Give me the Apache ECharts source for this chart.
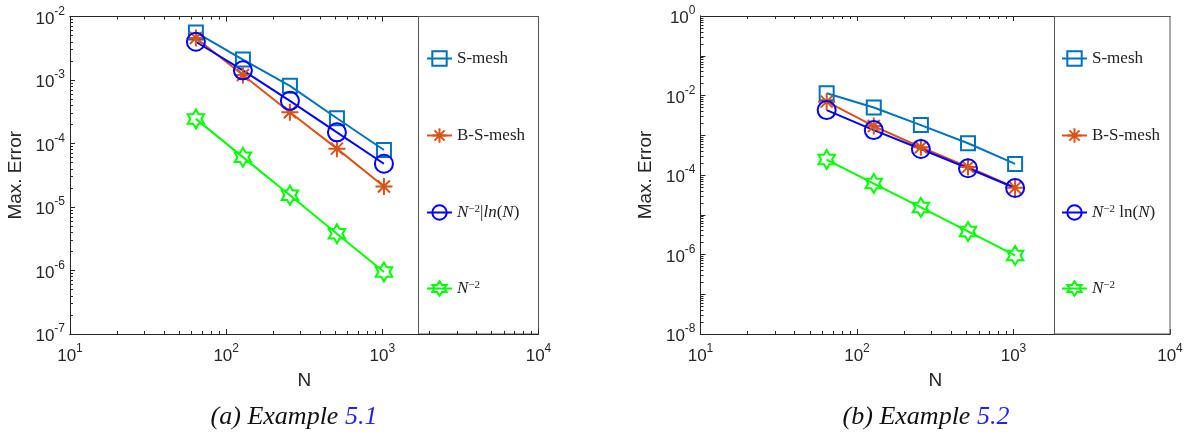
<!DOCTYPE html>
<html><head><meta charset="utf-8">
<script src="https://cdn.jsdelivr.net/npm/echarts@6/dist/echarts.min.js"></script>
<style>html,body{margin:0;padding:0;background:#fff}#c{width:1191px;height:436px}</style>
</head><body><div id="c"></div>
<script>
// ---- data ----
const N = [64, 128, 256, 512, 1024];
const sMeshA  = [5.6e-3, 2.1e-3, 8.1e-4, 2.5e-4, 7.9e-5];
const bsMeshA = [4.6e-3, 1.2e-3, 3.1e-4, 8.3e-5, 2.1e-5];
const lnA     = [4.0e-3, 1.42e-3, 4.7e-4, 1.5e-4, 4.8e-5];
const n2A     = [2.44e-4, 6.1e-5, 1.53e-5, 3.8e-6, 9.5e-7];
const sMeshB  = [1.14e-2, 5.0e-3, 1.8e-3, 6.3e-4, 1.9e-4];
const bsMeshB = [7.0e-3, 1.7e-3, 5.0e-4, 1.6e-4, 4.8e-5];
const lnB     = [4.3e-3, 1.35e-3, 4.5e-4, 1.48e-4, 4.7e-5];
const n2B     = [2.44e-4, 6.1e-5, 1.53e-5, 3.8e-6, 9.5e-7];
const xTickLabels = [10, 100, 1000, 10000];
const yTickLabelsA = [1e-7, 1e-6, 1e-5, 1e-4, 1e-3, 1e-2];
const yTickLabelsB = [1e-8, 1e-6, 1e-4, 1e-2, 1];
const legendNamesA = ['S-mesh', 'B-S-mesh', 'N^-2|ln(N)', 'N^-2'];
const legendNamesB = ['S-mesh ', 'B-S-mesh ', 'N^-2 ln(N)', 'N^-2 '];
const captionA = ['(a) Example ', '5.1'];
const captionB = ['(b) Example ', '5.2'];

// ---- helpers ----
function decades(lo, hi) { const r = []; for (let e = lo; e <= hi; e++) r.push(Math.pow(10, e)); return r; }
function minors(lo, hi) { const r = []; for (let e = lo; e < hi; e++) for (let k = 2; k <= 9; k++) r.push(k * Math.pow(10, e)); return r; }
const AX = '#262626';
const sans = 'Liberation Sans';
const serif = 'Liberation Serif';
const tickRich = {
  b: { fontSize: 17, fontFamily: sans, color: AX, lineHeight: 22, verticalAlign: 'bottom' },
  s: { fontSize: 12, fontFamily: sans, color: AX, lineHeight: 12, verticalAlign: 'top' }
};
function pow10Label(v) { const e = Math.round(Math.log10(v)); return '{b|10}{s|' + e + '}'; }

const SYM_AST = 'path://M0,-10L0,10M-10,0L10,0M-7.07,-7.07L7.07,7.07M-7.07,7.07L7.07,-7.07';
const SYM_HEX = 'path://M0,-10L2.887,-5L8.66,-5L5.774,0L8.66,5L2.887,5L0,10L-2.887,5L-8.66,5L-5.774,0L-8.66,-5L-2.887,-5Z';
const styles = [
  { color: '#0072BD', symbol: 'rect', size: 14 },
  { color: '#D95319', symbol: SYM_AST, size: 17 },
  { color: '#0000FF', symbol: 'circle', size: 18 },
  { color: '#00FF00', symbol: SYM_HEX, size: 19 }
];
function lineOn() { return { show: true, onZero: false, lineStyle: { color: AX, width: 1 } }; }
// ticks hidden behind the legend box (values above ~1700) are left out where the box covers them
const under = v => v < 1700;

function xAxes(grid, bottomZ, bottomAll) {
  const base = { type: 'log', logBase: 10, min: 10, max: 10000, gridIndex: grid, splitLine: { show: false } };
  const botMinor = bottomAll ? minors(1, 4) : minors(1, 4).filter(under);
  return [
    Object.assign({}, base, { position: 'bottom', z: bottomZ, axisLine: lineOn(),
      axisTick: { show: true, inside: true, length: 5, customValues: decades(1, 4), lineStyle: { color: AX, width: 1 } },
      axisLabel: { show: true, margin: 9, customValues: xTickLabels, formatter: pow10Label, rich: tickRich },
      name: 'N', nameLocation: 'middle', nameGap: 37,
      nameTextStyle: { fontFamily: sans, fontSize: 19, color: AX } }),
    Object.assign({}, base, { position: 'bottom', z: bottomZ, axisLine: lineOn(),
      axisTick: { show: true, inside: true, length: 3, customValues: botMinor, lineStyle: { color: AX, width: 1 } },
      axisLabel: { show: false } }),
    Object.assign({}, base, { position: 'top', z: 0, axisLine: lineOn(),
      axisTick: { show: true, inside: true, length: 5, customValues: decades(1, 3), lineStyle: { color: AX, width: 1 } },
      axisLabel: { show: false } }),
    Object.assign({}, base, { position: 'top', z: 0, axisLine: lineOn(),
      axisTick: { show: true, inside: true, length: 3, customValues: minors(1, 4).filter(under), lineStyle: { color: AX, width: 1 } },
      axisLabel: { show: false } })
  ];
}
function yAxes(grid, lo, hi, labels) {
  const base = { type: 'log', logBase: 10, min: Math.pow(10, lo), max: Math.pow(10, hi), gridIndex: grid, splitLine: { show: false } };
  return [
    Object.assign({}, base, { position: 'left', axisLine: lineOn(),
      axisTick: { show: true, inside: true, length: 5, customValues: decades(lo, hi), lineStyle: { color: AX, width: 1 } },
      axisLabel: { show: true, margin: 5, customValues: labels, formatter: pow10Label, rich: tickRich },
      name: 'Max. Error', nameLocation: 'middle', nameGap: 45,
      nameTextStyle: { fontFamily: sans, fontSize: 19, color: AX } }),
    Object.assign({}, base, { position: 'left', axisLine: lineOn(),
      axisTick: { show: true, inside: true, length: 3, customValues: minors(lo, hi), lineStyle: { color: AX, width: 1 } },
      axisLabel: { show: false } })
  ];
}

function mkSeries(names, datas, xi, yi) {
  return names.map((nm, i) => ({
    name: nm, type: 'line', xAxisIndex: xi, yAxisIndex: yi,
    data: N.map((n, j) => [n, datas[i][j]]),
    symbol: styles[i].symbol, symbolSize: styles[i].size, symbolKeepAspect: true, showSymbol: true,
    lineStyle: { color: styles[i].color, width: 2 },
    itemStyle: { color: 'rgba(0,0,0,0)', borderColor: styles[i].color, borderWidth: 2 },
    emphasis: { disabled: true }, animation: false
  }));
}

const legendRich = {
  i: { fontFamily: serif, fontStyle: 'italic', fontSize: 17, color: '#222' },
  r: { fontFamily: serif, fontSize: 17, color: '#222' },
  s: { fontFamily: serif, fontSize: 11, color: '#222', verticalAlign: 'top', lineHeight: 12 }
};
const legendFmt = {
  'S-mesh': '{r|S-mesh}', 'B-S-mesh': '{r|B-S-mesh}',
  'N^-2|ln(N)': '{i|N}{s|\u22122}{r||}{i|ln}{r|(}{i|N}{r|)}',
  'N^-2': '{i|N}{s|\u22122}',
  'S-mesh ': '{r|S-mesh}', 'B-S-mesh ': '{r|B-S-mesh}',
  'N^-2 ln(N)': '{i|N}{s|\u22122}{r| ln(}{i|N}{r|)}',
  'N^-2 ': '{i|N}{s|\u22122}'
};
const legendCenters = [59, 136, 213, 289];
function mkLegends(names, left) {
  return names.map((nm, i) => ({
    data: [nm], left: left, top: legendCenters[i] - 9, padding: 0, z: 20,
    orient: 'vertical', itemWidth: 25, itemHeight: 18, selectedMode: false,
    itemStyle: { borderWidth: 2 },
    formatter: n => legendFmt[n],
    textStyle: { fontFamily: serif, fontSize: 17, color: '#222', rich: legendRich }
  }));
}

const chart = echarts.init(document.getElementById('c'), null, { renderer: 'canvas' });
chart.setOption({
  animation: false,
  backgroundColor: '#fff',
  grid: [
    { left: 70, top: 16.5, width: 468.5, height: 317.5 },
    { left: 700.5, top: 16, width: 469.5, height: 318 }
  ],
  xAxis: xAxes(0, 30, true).concat(xAxes(1, 0, false)),
  yAxis: yAxes(0, -7, -2, yTickLabelsA).concat(yAxes(1, -8, 0, yTickLabelsB)),
  legend: mkLegends(legendNamesA, 426).concat(mkLegends(legendNamesB, 1061)),
  series: mkSeries(legendNamesA, [sMeshA, bsMeshA, lnA, n2A], 0, 0)
    .concat(mkSeries(legendNamesB, [sMeshB, bsMeshB, lnB, n2B], 4, 2)),
  graphic: [
    { type: 'rect', z: 10, shape: { x: 418.5, y: 16.5, width: 120, height: 317.5 },
      style: { fill: '#fff', stroke: '#555', lineWidth: 1 } },
    { type: 'rect', z: 10, shape: { x: 1054.5, y: 16.5, width: 115.5, height: 317.5 },
      style: { fill: '#fff', stroke: '#555', lineWidth: 1 } },
    { type: 'text', z: 10, x: 294, y: 417, style: { rich: {
        i: { fontFamily: serif, fontStyle: 'italic', fontSize: 26, fill: '#111' },
        n: { fontFamily: serif, fontStyle: 'italic', fontSize: 26, fill: '#2222ff' } },
        text: '{i|' + captionA[0] + '}{n|' + captionA[1] + '}', align: 'center', verticalAlign: 'middle' } },
    { type: 'text', z: 10, x: 926, y: 417, style: { rich: {
        i: { fontFamily: serif, fontStyle: 'italic', fontSize: 26, fill: '#111' },
        n: { fontFamily: serif, fontStyle: 'italic', fontSize: 26, fill: '#2222ff' } },
        text: '{i|' + captionB[0] + '}{n|' + captionB[1] + '}', align: 'center', verticalAlign: 'middle' } }
  ]
});
</script></body></html>
